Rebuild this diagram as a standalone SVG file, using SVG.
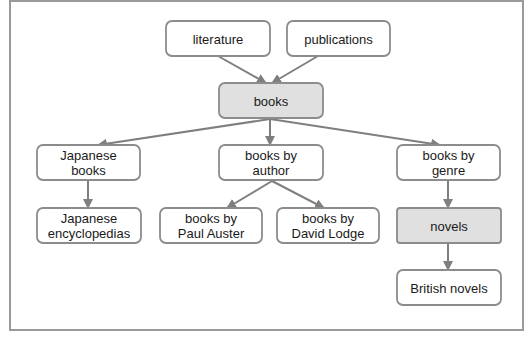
<svg xmlns="http://www.w3.org/2000/svg" width="532" height="337" viewBox="0 0 532 337">
<defs>
<style>
.box{fill:#ffffff;stroke:#8c8c8c;stroke-width:1.8}
.hl{fill:#e0e0e0;stroke:#8c8c8c;stroke-width:1.8}
.frame{fill:#ffffff;stroke:#9a9a9a;stroke-width:2}
text{font-family:"Liberation Sans",Arial,sans-serif;font-size:13px;fill:#1a1a1a;text-anchor:middle}
.edge{stroke:#7f7f7f;stroke-width:2;fill:none;marker-end:url(#ah)}
</style>
<marker id="ah" viewBox="0 0 10 10" refX="9" refY="5" markerWidth="5" markerHeight="5" orient="auto" markerUnits="strokeWidth">
<path d="M0,0 L10,5 L0,10 z" fill="#7f7f7f"/>
</marker>
</defs>
<rect class="frame" x="10" y="1" width="513" height="329"/>
<g id="connectors">
<line class="edge" x1="218" y1="56" x2="266" y2="83"/>
<line class="edge" x1="318" y1="56" x2="272" y2="83"/>
<line class="edge" x1="270" y1="119" x2="98" y2="145"/>
<line class="edge" x1="270" y1="119" x2="270" y2="145"/>
<line class="edge" x1="270" y1="119" x2="440" y2="145"/>
<line class="edge" x1="88" y1="181" x2="88" y2="208"/>
<line class="edge" x1="272" y1="181" x2="227" y2="208"/>
<line class="edge" x1="272" y1="181" x2="324" y2="208"/>
<line class="edge" x1="448" y1="181" x2="448" y2="208"/>
<line class="edge" x1="448" y1="244" x2="448" y2="270"/>
</g>
<g id="literature"><rect class="box" x="166" y="21" width="104" height="35" rx="6"/><text x="218" y="43.5">literature</text></g>
<g id="publications"><rect class="box" x="287" y="21" width="103" height="35" rx="6"/><text x="338.5" y="43.5">publications</text></g>
<g id="books"><rect class="hl" x="219" y="83" width="104" height="35" rx="6"/><text x="271" y="105.5">books</text></g>
<g id="japanese-books"><rect class="box" x="37" y="145" width="103" height="35" rx="6"/><text x="88.5" y="160">Japanese</text><text x="88.5" y="175">books</text></g>
<g id="books-by-author"><rect class="box" x="219" y="145" width="104" height="35" rx="6"/><text x="271" y="160">books by</text><text x="271" y="175">author</text></g>
<g id="books-by-genre"><rect class="box" x="397" y="145" width="103" height="35" rx="6"/><text x="448.5" y="160">books by</text><text x="448.5" y="175">genre</text></g>
<g id="japanese-encyclopedias"><rect class="box" x="37" y="208" width="104" height="35" rx="6"/><text x="89" y="223">Japanese</text><text x="89" y="238">encyclopedias</text></g>
<g id="paul-auster"><rect class="box" x="160" y="208" width="102" height="35" rx="6"/><text x="211" y="223">books by</text><text x="211" y="238">Paul Auster</text></g>
<g id="david-lodge"><rect class="box" x="277" y="208" width="102" height="35" rx="6"/><text x="328" y="223">books by</text><text x="328" y="238">David Lodge</text></g>
<g id="novels"><rect class="hl" x="397" y="208" width="104" height="35" rx="3"/><text x="449" y="230.5">novels</text></g>
<g id="british-novels"><rect class="box" x="397" y="270" width="104" height="35" rx="6"/><text x="449" y="292.5">British novels</text></g>
</svg>
